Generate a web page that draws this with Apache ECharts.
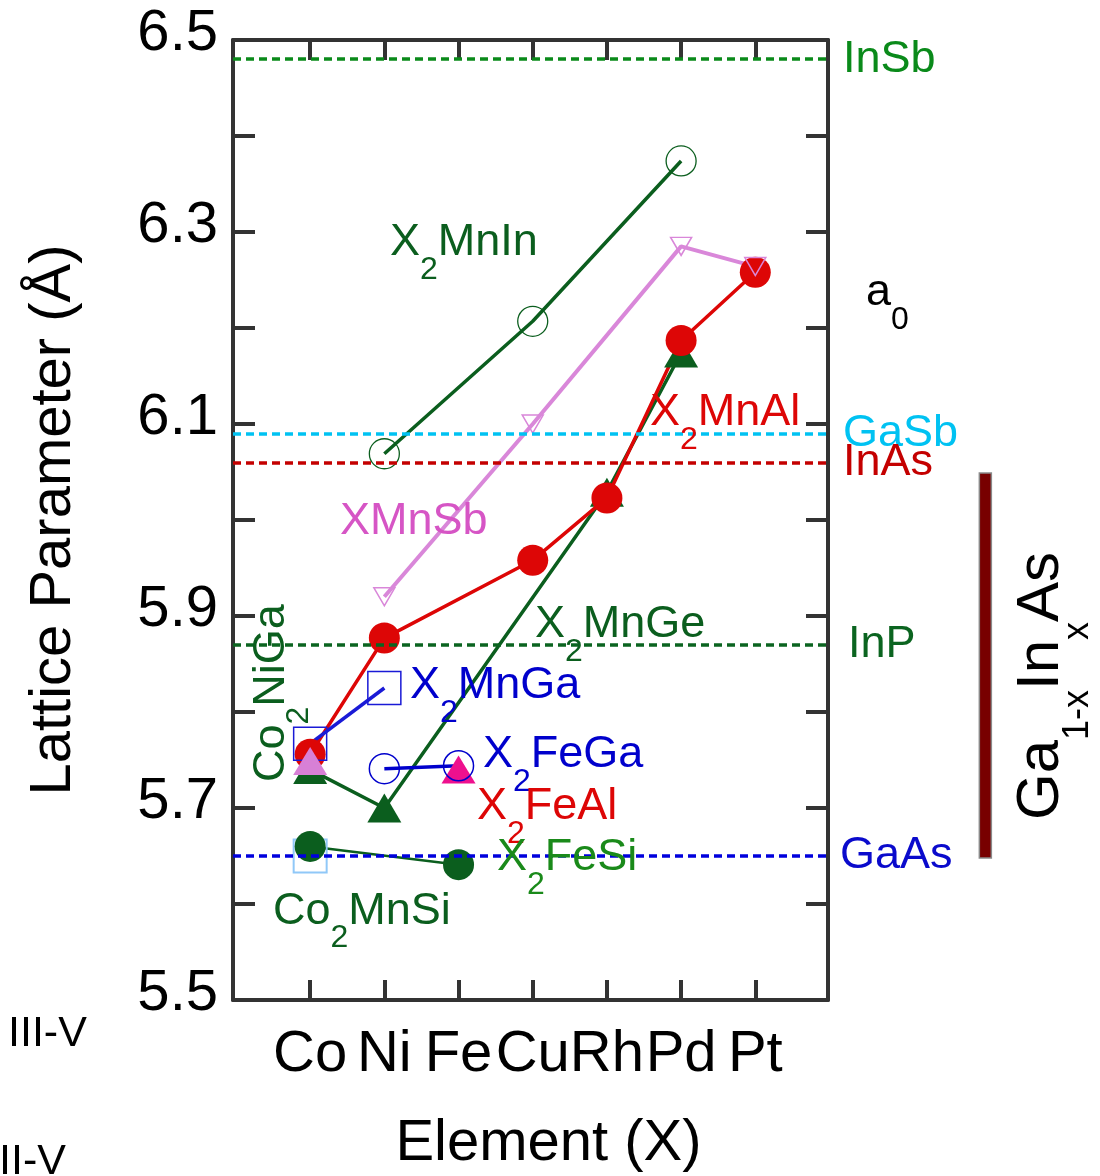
<!DOCTYPE html>
<html>
<head>
<meta charset="utf-8">
<title>Lattice Parameter vs Element</title>
<script src="https://cdn.jsdelivr.net/npm/echarts@6/dist/echarts.min.js"></script>
<style>html, body { margin: 0; padding: 0; background: #fff; }</style>
</head>
<body>
<div id="main" style="width: 1100px; height: 1176px;"></div>
<script>
// X element on the x axis (Co = 1 ... Pt = 7)
var elements = ['Co', 'Ni', 'Fe', 'Cu', 'Rh', 'Pd', 'Pt'];

// lattice parameters (Angstrom)
var x2MnInX = ['Ni', 'Cu', 'Pd'];
var x2MnInA = [6.069, 6.207, 6.374];
var xMnSbX = ['Ni', 'Cu', 'Pd', 'Pt'];
var xMnSbA = [5.920, 6.100, 6.285, 6.264];
var x2MnAlX = ['Co', 'Ni', 'Cu', 'Rh', 'Pd', 'Pt'];
var x2MnAlA = [5.756, 5.877, 5.958, 6.023, 6.187, 6.258];
var x2MnGeX = ['Co', 'Ni', 'Rh', 'Pd'];
var x2MnGeA = [5.740, 5.700, 6.029, 6.174];
var x2MnGaX = ['Co', 'Ni'];
var x2MnGaA = [5.767, 5.825];
var x2FeGaX = ['Ni', 'Fe'];
var x2FeGaA = [5.741, 5.744];
var x2FeAlX = ['Fe'];
var x2FeAlA = [5.740];
var co2NiGaX = ['Co'];
var co2NiGaA = [5.749];
var x2FeSiX = ['Co', 'Fe'];
var x2FeSiA = [5.660, 5.641];
var co2MnSiX = ['Co'];
var co2MnSiA = [5.650];

// III-V substrates
var subNames = ['InSb', 'GaSb', 'InAs', 'InP', 'GaAs'];
var subA = [6.479, 6.094, 6.057, 5.866, 5.651];
var subColors = ['#0a8a1a', '#00c2f2', '#c40000', '#0b6420', '#0000dd'];
var subLabelColors = ['#0a8a1a', '#00c2f2', '#c40000', '#0b6420', '#0a0acc'];
var subLabelGap = [15, 15, 15, 20, 12];

// Ga(1-x)In(x)As range bar
var gaInAsRange = [5.648, 6.049];

var FONT = '"Liberation Sans", Arial, Helvetica, sans-serif';
var DARK = '#333';

function pts(xs, as) {
    return xs.map(function (e, i) { return [elements.indexOf(e) + 1, as[i]]; });
}

var chart = echarts.init(document.getElementById('main'));

function lineSeries(name, data, color, lw, symbol, size, filled, rotate, bw) {
    return {
        name: name,
        type: 'line',
        data: data,
        symbol: symbol,
        symbolSize: size,
        symbolRotate: rotate || 0,
        showSymbol: true,
        lineStyle: { color: color, width: lw },
        itemStyle: filled
            ? { color: color }
            : { color: 'rgba(0,0,0,0)', borderColor: color, borderWidth: bw || 1.5 },
        emphasis: { disabled: true },
        animation: false
    };
}

var tickValues = [1, 2, 3, 4, 5, 6, 7];
var frameLine = { show: true, onZero: false, lineStyle: { color: DARK, width: 4 } };

var option = {
    backgroundColor: '#fff',
    animation: false,
    grid: { left: 233, right: 272, top: 40, bottom: 176, outerBoundsMode: 'none' },
    xAxis: [
        {
            type: 'value', position: 'bottom', min: -0.04, max: 7.98,
            axisLine: frameLine,
            axisTick: { show: true, inside: true, length: 20, customValues: tickValues,
                lineStyle: { color: DARK, width: 4 } },
            axisLabel: { customValues: tickValues, margin: 26, fontSize: 58, color: '#000', fontFamily: FONT,
                formatter: function (v) { return elements[Math.round(v) - 1] || ''; } },
            splitLine: { show: false },
            name: 'Element (X)', nameLocation: 'middle', nameGap: 115,
            nameTextStyle: { fontSize: 58, color: '#000', fontFamily: FONT, padding: [0, 0, 0, 36] }
        },
        {
            type: 'value', position: 'top', min: -0.04, max: 7.98,
            axisLine: frameLine,
            axisTick: { show: true, inside: true, length: 20, customValues: tickValues,
                lineStyle: { color: DARK, width: 4 } },
            axisLabel: { show: false },
            splitLine: { show: false }
        }
    ],
    yAxis: [
        {
            type: 'value', position: 'left', min: 5.5, max: 6.5, interval: 0.1,
            axisLine: frameLine,
            axisTick: { show: true, inside: true, length: 22, lineStyle: { color: DARK, width: 4 } },
            axisLabel: { margin: 15, fontSize: 58, color: '#000', fontFamily: FONT,
                verticalAlign: 'bottom', lineHeight: 12,
                formatter: function (v) {
                    var k = Math.round((v - 5.5) * 10);
                    return k % 2 === 0 ? v.toFixed(1) : '';
                } },
            splitLine: { show: false },
            name: 'Lattice Parameter (Å)', nameLocation: 'middle', nameGap: 150,
            nameTextStyle: { fontSize: 58, color: '#000', fontFamily: FONT }
        },
        {
            type: 'value', position: 'right', min: 5.5, max: 6.5, interval: 0.1,
            axisLine: frameLine,
            axisTick: { show: true, inside: true, length: 22, lineStyle: { color: DARK, width: 4 } },
            axisLabel: { show: false },
            splitLine: { show: false }
        }
    ],
    series: [
        lineSeries('Co2MnSi', pts(co2MnSiX, co2MnSiA), '#90c8f8', 2, 'rect', 33, false, 0, 2),
        lineSeries('X2FeSi', pts(x2FeSiX, x2FeSiA), '#0b5e1e', 2.5, 'circle', 31, true),
        lineSeries('X2MnGe', pts(x2MnGeX, x2MnGeA), '#0b5e1e', 3.5, 'triangle', [34, 29], true),
        lineSeries('X2MnAl', pts(x2MnAlX, x2MnAlA), '#dd0606', 3.5, 'circle', 31, true),
        lineSeries('XMnSb', pts(xMnSbX, xMnSbA), '#d987d9', 4, 'triangle', [21, 18], false, 180, 1.5),
        lineSeries('X2MnIn', pts(x2MnInX, x2MnInA), '#0b5e1e', 3.5, 'circle', 30, false, 0, 1.3),
        lineSeries('X2MnGa', pts(x2MnGaX, x2MnGaA), '#1a1ad6', 3.5, 'rect', 33, false, 0, 1.5),
        lineSeries('Co2NiGa', pts(co2NiGaX, co2NiGaA), '#d880d6', 3, 'triangle', [34, 28], true),
        lineSeries('X2FeAl', pts(x2FeAlX, x2FeAlA), '#ee108e', 3, 'triangle', [34, 28], true),
        lineSeries('X2FeGa', pts(x2FeGaX, x2FeGaA), '#0000cc', 3.5, 'circle', 30, false, 0, 1.5),
        {
            name: 'substrates', type: 'line', data: [], z: 10, animation: false,
            markLine: {
                silent: true, symbol: ['none', 'none'], animation: false,
                data: subNames.map(function (n, i) {
                    return {
                        yAxis: subA[i],
                        lineStyle: { color: subColors[i], width: 3.5, type: [8, 5] },
                        label: { show: true, position: 'end', distance: subLabelGap[i], formatter: n,
                            color: subLabelColors[i], fontSize: 45, fontFamily: FONT }
                    };
                })
            }
        }
    ]
};

chart.setOption(option);

// text annotations, anchored in data coordinates (top-left of the text block)
var notes = [
    { t: '{m|X}{s|2}{m|MnIn}', at: [2.076, 6.3125], c: '#0b5e1e' },
    { t: '{m|X}{s|2}{m|MnAl}', at: [5.581, 6.1354], c: '#dd0606' },
    { t: '{m|XMnSb}', at: [1.402, 6.0219], c: '#d655c5' },
    { t: '{m|X}{s|2}{m|MnGe}', at: [4.031, 5.9146], c: '#0b5e1e' },
    { t: '{m|X}{s|2}{m|MnGa}', at: [2.346, 5.851], c: '#0000cc' },
    { t: '{m|X}{s|2}{m|FeGa}', at: [3.330, 5.7792], c: '#0000cc' },
    { t: '{m|X}{s|2}{m|FeAl}', at: [3.249, 5.725], c: '#dd0606' },
    { t: '{m|X}{s|2}{m|FeSi}', at: [3.518, 5.672], c: '#1a8a1a' },
    { t: '{m|Co}{s|2}{m|MnSi}', at: [0.499, 5.616], c: '#0b5e1e' },
    { t: '{m|a}{s|0}', at: [8.492, 6.2604], c: '#000' },
    { t: '{m|Co}{s|2}{m|NiGa}', at: [0.176, 5.727], c: '#0b5e1e', rot: true },
    { t: '{g|Ga}{u|1-x}{g|In}{u|x}{g|As}', at: [10.447, 5.6875], c: '#000', rot: true },
    { t: '{v|III-V}', at: [-3.073, 5.4865], c: '#000' },
    { t: '{v|II-V}', at: [-3.194, 5.354], c: '#000' }
];

var rich = {
    m: { fontSize: 45, lineHeight: 46, verticalAlign: 'top', fontFamily: FONT },
    s: { fontSize: 32, lineHeight: 100, verticalAlign: 'middle', fontFamily: FONT },
    g: { fontSize: 60, lineHeight: 62, verticalAlign: 'top', fontFamily: FONT },
    u: { fontSize: 36, lineHeight: 134, verticalAlign: 'middle', fontFamily: FONT },
    v: { fontSize: 43, lineHeight: 44, verticalAlign: 'top', fontFamily: FONT }
};

function toPx(p) {
    return chart.convertToPixel({ xAxisIndex: 0, yAxisIndex: 0 }, p);
}

var graphics = notes.map(function (n) {
    var p = toPx(n.at);
    return {
        type: 'text', x: p[0], y: p[1], rotation: n.rot ? Math.PI / 2 : 0, z: 20, silent: true,
        style: { text: n.t, rich: rich, fill: n.c, fontFamily: FONT, align: 'left', verticalAlign: 'top' }
    };
});

var barTop = toPx([10.02, gaInAsRange[1]]);
var barBottom = toPx([10.02, gaInAsRange[0]]);
graphics.push({
    type: 'rect', z: 20, silent: true,
    shape: { x: barTop[0], y: barTop[1], width: 12, height: barBottom[1] - barTop[1] },
    style: { fill: '#780000', stroke: '#8a8a8a', lineWidth: 1.5 }
});

chart.setOption({ graphic: graphics });

window.addEventListener('resize', function () {
    chart.resize();
});
</script>
</body>
</html>
